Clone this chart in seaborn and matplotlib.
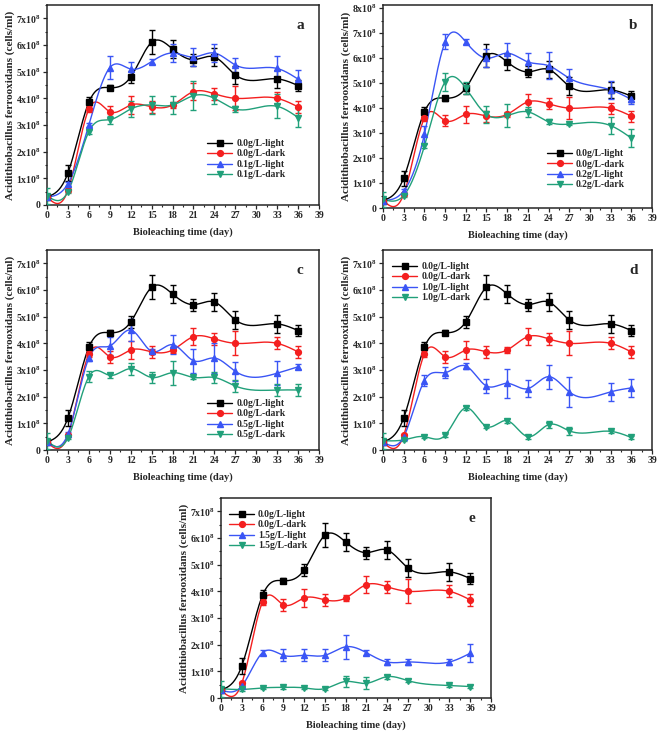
import numpy as np
import pandas as pd
import matplotlib
matplotlib.use("Agg")
import matplotlib.pyplot as plt
import seaborn as sns
from matplotlib.ticker import MultipleLocator

# ---------------- data ----------------
days = [0, 3, 6, 9, 12, 15, 18, 21, 24, 27, 33, 36]

ctrl_light = [0.30, 1.20, 3.85, 4.40, 4.80, 6.10, 5.85, 5.45, 5.55, 4.88, 4.73, 4.48]
ctrl_light_err = [0.02, 0.30, 0.20, 0.10, 0.22, 0.45, 0.33, 0.22, 0.33, 0.35, 0.33, 0.22]
ctrl_dark = [0.30, 0.55, 3.60, 3.50, 3.75, 3.68, 3.75, 4.25, 4.17, 4.00, 4.00, 3.68]
ctrl_dark_err = [0.02, 0.05, 0.10, 0.23, 0.35, 0.22, 0.10, 0.33, 0.22, 0.45, 0.22, 0.22]

a_light = [0.30, 0.80, 3.00, 5.15, 5.10, 5.38, 5.70, 5.55, 5.70, 5.25, 5.12, 4.72]
a_light_err = [0.02, 0.08, 0.08, 0.43, 0.25, 0.10, 0.33, 0.32, 0.32, 0.27, 0.45, 0.35]
a_dark = [0.35, 0.50, 2.75, 3.20, 3.60, 3.75, 3.75, 4.10, 4.00, 3.60, 3.70, 3.28]
a_dark_err = [0.30, 0.05, 0.10, 0.15, 0.30, 0.35, 0.35, 0.55, 0.20, 0.10, 0.45, 0.35]

b_light = [0.30, 0.68, 2.95, 6.65, 6.65, 6.00, 6.20, 5.85, 5.70, 5.20, 4.73, 4.35]
b_light_err = [0.02, 0.08, 0.35, 0.30, 0.10, 0.35, 0.40, 0.35, 0.55, 0.35, 0.35, 0.20]
b_dark = [0.35, 0.50, 2.48, 5.05, 4.80, 3.75, 3.70, 3.85, 3.45, 3.36, 3.30, 2.80]
b_dark_err = [0.30, 0.05, 0.08, 0.35, 0.25, 0.35, 0.45, 0.20, 0.10, 0.05, 0.35, 0.35]

c_light = [0.30, 0.60, 3.45, 3.90, 4.50, 3.70, 3.95, 3.35, 3.45, 2.95, 2.88, 3.12]
c_light_err = [0.02, 0.08, 0.10, 0.35, 0.40, 0.10, 0.35, 0.45, 0.55, 0.35, 0.45, 0.10]
c_dark = [0.35, 0.45, 2.75, 2.80, 3.05, 2.72, 2.90, 2.72, 2.72, 2.40, 2.25, 2.25]
c_dark_err = [0.30, 0.05, 0.20, 0.10, 0.22, 0.22, 0.45, 0.05, 0.22, 0.22, 0.22, 0.22]

d_light = [0.30, 0.50, 2.60, 2.90, 3.15, 2.40, 2.50, 2.30, 2.75, 2.18, 2.18, 2.33]
d_light_err = [0.02, 0.08, 0.20, 0.20, 0.10, 0.25, 0.55, 0.33, 0.45, 0.55, 0.33, 0.33]
d_dark = [0.35, 0.38, 0.50, 0.55, 1.58, 0.88, 1.10, 0.50, 0.95, 0.72, 0.70, 0.47]
d_dark_err = [0.30, 0.05, 0.05, 0.05, 0.08, 0.07, 0.07, 0.08, 0.12, 0.15, 0.05, 0.07]

e_light = [0.30, 0.45, 1.70, 1.60, 1.60, 1.60, 1.92, 1.70, 1.35, 1.35, 1.35, 1.68]
e_light_err = [0.02, 0.05, 0.10, 0.22, 0.22, 0.22, 0.45, 0.10, 0.10, 0.10, 0.10, 0.33]
e_dark = [0.35, 0.32, 0.38, 0.40, 0.38, 0.35, 0.62, 0.55, 0.80, 0.65, 0.47, 0.43]
e_dark_err = [0.30, 0.05, 0.05, 0.05, 0.05, 0.05, 0.20, 0.22, 0.07, 0.05, 0.05, 0.05]

panel_letters = ["a", "b", "c", "d", "e"]
doses = ["0.1g/L", "0.2g/L", "0.5g/L", "1.0g/L", "1.5g/L"]
xticks = list(range(0, 40, 3))
ylabel = "Acidithiobacillus ferrooxidans (cells/ml)"
xlabel = "Bioleaching time (day)"

# ---------------- style ----------------
sns.set_style("ticks")
plt.rcParams["font.family"] = ["Liberation Serif", "DejaVu Serif"]
plt.rcParams["font.weight"] = "bold"
plt.rcParams["mathtext.fontset"] = "custom"
plt.rcParams["mathtext.rm"] = "Liberation Serif:bold"
plt.rcParams["mathtext.it"] = "Liberation Serif:bold:italic"
plt.rcParams["mathtext.bf"] = "Liberation Serif:bold"
plt.rcParams["axes.linewidth"] = 1.1

COL = {"blk": "#000000", "red": "#f41f1f", "blu": "#3a55f5", "grn": "#21a07a"}


def spline(x, y, n=400):
    x = np.asarray(x, float)
    y = np.asarray(y, float)
    m = len(x)
    h = np.diff(x)
    A = np.zeros((m, m))
    r = np.zeros(m)
    A[0, 0] = A[-1, -1] = 1
    for i in range(1, m - 1):
        A[i, i - 1] = h[i - 1]
        A[i, i] = 2 * (h[i - 1] + h[i])
        A[i, i + 1] = h[i]
        r[i] = 6 * ((y[i + 1] - y[i]) / h[i] - (y[i] - y[i - 1]) / h[i - 1])
    M = np.linalg.solve(A, r)
    xs = np.linspace(x[0], x[-1], n)
    idx = np.clip(np.searchsorted(x, xs) - 1, 0, m - 2)
    x0, x1 = x[idx], x[idx + 1]
    hh = x1 - x0
    t0, t1 = x1 - xs, xs - x0
    ys = (M[idx] * t0 ** 3 / (6 * hh) + M[idx + 1] * t1 ** 3 / (6 * hh)
          + (y[idx] / hh - M[idx] * hh / 6) * t0
          + (y[idx + 1] / hh - M[idx + 1] * hh / 6) * t1)
    return xs, ys


def fmt_y(v):
    return "0" if v == 0 else f"{v}x10$^{{8}}$"


def draw(ax, series, letter, ymax, yticks, leg_anchor):
    handles = []
    for label, y, err, col, mk in series:
        xs, ys = spline(days, y)
        df = pd.DataFrame({"x": xs, "y": ys})
        sns.lineplot(data=df, x="x", y="y", ax=ax, color=col, lw=1.0,
                     sort=False, legend=False, zorder=2)
        ax.errorbar(days, y, yerr=err, fmt=mk, color=col, ms=4.2,
                    elinewidth=1.0, capsize=2.2, capthick=1.0, zorder=3)
        h, = ax.plot([], [], color=col, marker=mk, ms=4.2, lw=1.0, label=label)
        handles.append(h)
    ax.set_xlim(0, 39)
    ax.set_ylim(0, ymax)
    ax.set_xticks(xticks)
    ax.set_xticklabels([str(t) for t in xticks])
    ax.set_yticks(yticks)
    ax.set_yticklabels([fmt_y(v) for v in yticks])
    ax.xaxis.set_minor_locator(MultipleLocator(1.5))
    ax.yaxis.set_minor_locator(MultipleLocator(0.5))
    ax.tick_params(which="major", direction="out", length=3, width=0.9,
                   labelsize=7, pad=1.5)
    ax.tick_params(which="minor", direction="out", length=1.6, width=0.8)
    for lab in ax.get_xticklabels() + ax.get_yticklabels():
        lab.set_fontweight("bold")
    for s in ax.spines.values():
        s.set_visible(True)
        s.set_linewidth(1.1)
    ax.set_xlabel(xlabel, fontsize=7.5, fontweight="bold", labelpad=5)
    ax.set_ylabel(ylabel, fontsize=8.0, fontweight="bold", labelpad=1)
    ax.text(0.93, 0.93, letter, transform=ax.transAxes, fontsize=11,
            fontweight="bold", ha="center", va="top")
    ax.legend(handles=handles, loc="upper left", bbox_to_anchor=leg_anchor,
              frameon=False, handlelength=2.6, labelspacing=0.15,
              handletextpad=0.4, borderaxespad=0, borderpad=0,
              prop={"weight": "bold", "size": 6.9})


fig = plt.figure(figsize=(6.61, 7.36), dpi=100)
W, H = 661, 736
boxes = [
    (47, 5, 272, 200),
    (383, 5, 269, 203),
    (47, 250, 272, 200),
    (383, 250, 269, 200),
    (221, 498, 270, 200),
]
lights = [a_light, b_light, c_light, d_light, e_light]
light_errs = [a_light_err, b_light_err, c_light_err, d_light_err, e_light_err]
darks = [a_dark, b_dark, c_dark, d_dark, e_dark]
dark_errs = [a_dark_err, b_dark_err, c_dark_err, d_dark_err, e_dark_err]
ymaxs = [7.5, 8.13, 7.5, 7.5, 7.5]
anchors = [(0.59, 0.33), (0.61, 0.29), (0.59, 0.255), (0.035, 0.94), (0.03, 0.94)]

for i, (l, t, w, h) in enumerate(boxes):
    ax = fig.add_axes([l / W, 1 - (t + h) / H, w / W, h / H])
    series = [
        ("0.0g/L-light", ctrl_light, ctrl_light_err, COL["blk"], "s"),
        ("0.0g/L-dark", ctrl_dark, ctrl_dark_err, COL["red"], "o"),
        (doses[i] + "-light", lights[i], light_errs[i], COL["blu"], "^"),
        (doses[i] + "-dark", darks[i], dark_errs[i], COL["grn"], "v"),
    ]
    top = 8 if i == 1 else 7
    draw(ax, series, panel_letters[i], ymaxs[i], list(range(0, top + 1)), anchors[i])

fig.savefig("out.png", dpi=100)
